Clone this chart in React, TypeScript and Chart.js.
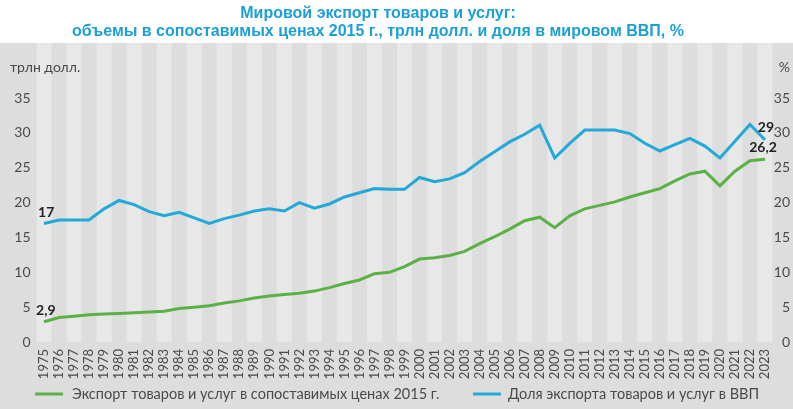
import { useEffect, useRef } from "react";
import { Chart, registerables } from "chart.js";

Chart.register(...registerables);

// Годы наблюдений
const years = [
  "1975", "1976", "1977", "1978", "1979", "1980", "1981", "1982", "1983", "1984",
  "1985", "1986", "1987", "1988", "1989", "1990", "1991", "1992", "1993", "1994",
  "1995", "1996", "1997", "1998", "1999", "2000", "2001", "2002", "2003", "2004",
  "2005", "2006", "2007", "2008", "2009", "2010", "2011", "2012", "2013", "2014",
  "2015", "2016", "2017", "2018", "2019", "2020", "2021", "2022", "2023",
];

// Экспорт товаров и услуг в сопоставимых ценах 2015 г., трлн долл.
const exportVolume = [
  2.9, 3.5, 3.7, 3.9, 4.0, 4.1, 4.2, 4.3, 4.4, 4.8,
  5.0, 5.2, 5.6, 5.9, 6.3, 6.6, 6.8, 7.0, 7.3, 7.8,
  8.4, 8.9, 9.8, 10.0, 10.8, 11.9, 12.1, 12.4, 13.0, 14.1,
  15.1, 16.2, 17.4, 17.9, 16.4, 18.1, 19.1, 19.6, 20.1, 20.8,
  21.4, 22.0, 23.1, 24.1, 24.5, 22.4, 24.5, 26.0, 26.2,
];

// Доля экспорта товаров и услуг в мировом ВВП, %
const exportShare = [
  17, 17.5, 17.5, 17.5, 19.1, 20.3, 19.7, 18.7, 18.1, 18.6,
  17.8, 17.0, 17.7, 18.2, 18.8, 19.1, 18.8, 20.0, 19.2, 19.8,
  20.8, 21.4, 22.0, 21.9, 21.9, 23.6, 23.0, 23.4, 24.3, 25.9,
  27.3, 28.7, 29.8, 31.1, 26.4, 28.5, 30.4, 30.4, 30.4, 29.9,
  28.5, 27.4, 28.3, 29.2, 28.1, 26.4, 28.8, 31.2, 29,
];

const axisMax = 35;
const axisStep = 5;

const titleLines = [
  "Мировой экспорт товаров и услуг:",
  "объемы в сопоставимых ценах 2015 г., трлн долл. и доля в мировом ВВП, %",
];
const leftAxisTitle = "трлн долл.";
const rightAxisTitle = "%";
const volumeLabel = "Экспорт товаров и услуг в сопоставимых ценах 2015 г.";
const shareLabel = "Доля экспорта товаров и услуг в ВВП";

const W = 793;
const H = 409;
const GREEN = "#5bb046";
const BLUE = "#22a9d8";
const TITLE_BLUE = "#1b9fd6";
const BG = "#dddddd";
const BAND = "#e8e8e8";
const BAND_TOP = 43;
const TEXT = "#4a4a4a";
const FONT = "Lato, 'Noto Sans', sans-serif";

const fmt = (v: number) => String(v).replace(".", ",");

const decor = {
  id: "decor",
  beforeDraw(chart: any) {
    const { ctx, chartArea, scales } = chart;
    const x = scales.x;
    ctx.save();
    ctx.fillStyle = "#ffffff";
    ctx.fillRect(0, 0, W, H);
    ctx.fillStyle = BG;
    ctx.fillRect(0, BAND_TOP, W, H - BAND_TOP);
    const step = (chartArea.right - chartArea.left) / years.length;
    ctx.fillStyle = BAND;
    years.forEach((_, i) => {
      if (i % 2 !== 0) return;
      const cx = x.getPixelForValue(i);
      ctx.fillRect(cx - step / 2, BAND_TOP, step, chartArea.bottom - BAND_TOP);
    });

    // заголовок
    ctx.fillStyle = TITLE_BLUE;
    ctx.font = "bold 16px 'Liberation Sans', Arial, sans-serif";
    ctx.textAlign = "center";
    ctx.textBaseline = "middle";
    ctx.fillText(titleLines[0], 378, 14);
    ctx.fillText(titleLines[1], 378, 32);

    // подписи осей
    ctx.fillStyle = TEXT;
    ctx.font = `14px ${FONT}`;
    ctx.textAlign = "left";
    ctx.fillText(leftAxisTitle, 10, 67);
    ctx.textAlign = "right";
    ctx.fillText(rightAxisTitle, 790, 67);
    ctx.restore();
  },
  afterDraw(chart: any) {
    const { ctx } = chart;
    ctx.save();

    // значения на концах линий
    const volMeta = chart.getDatasetMeta(0).data;
    const shareMeta = chart.getDatasetMeta(1).data;
    const last = years.length - 1;
    ctx.fillStyle = "#222222";
    ctx.font = `bold 14px ${FONT}`;
    ctx.textBaseline = "middle";
    ctx.textAlign = "left";
    ctx.fillText(fmt(exportShare[0]), shareMeta[0].x - 6, shareMeta[0].y - 11);
    ctx.fillText(fmt(exportVolume[0]), volMeta[0].x - 8, volMeta[0].y - 11);
    ctx.textAlign = "center";
    ctx.fillText(fmt(exportShare[last]), shareMeta[last].x + 1, shareMeta[last].y - 12);
    ctx.fillText(fmt(exportVolume[last]), volMeta[last].x - 2, volMeta[last].y - 12);

    // легенда
    const ly = 394;
    ctx.lineWidth = 3;
    ctx.strokeStyle = GREEN;
    ctx.beginPath();
    ctx.moveTo(35, ly);
    ctx.lineTo(63, ly);
    ctx.stroke();
    ctx.strokeStyle = BLUE;
    ctx.beginPath();
    ctx.moveTo(473, ly);
    ctx.lineTo(501, ly);
    ctx.stroke();
    ctx.fillStyle = TEXT;
    ctx.font = `14.5px ${FONT}`;
    ctx.textAlign = "left";
    ctx.textBaseline = "middle";
    ctx.fillText(volumeLabel, 72, ly);
    ctx.fillText(shareLabel, 508, ly);
    ctx.restore();
  },
};

export default function App() {
  const ref = useRef<HTMLCanvasElement | null>(null);

  useEffect(() => {
    if (!ref.current) return;
    const chart = new Chart(ref.current, {
      type: "line",
      data: {
        labels: years,
        datasets: [
          {
            label: volumeLabel,
            data: exportVolume,
            borderColor: GREEN,
            backgroundColor: GREEN,
            borderWidth: 3,
            pointRadius: 0,
            tension: 0,
            yAxisID: "y",
          },
          {
            label: shareLabel,
            data: exportShare,
            borderColor: BLUE,
            backgroundColor: BLUE,
            borderWidth: 3,
            pointRadius: 0,
            tension: 0,
            yAxisID: "y1",
          },
        ],
      },
      options: {
        responsive: false,
        animation: false,
        devicePixelRatio: 1,
        layout: { padding: { top: 98, bottom: 27, left: 0, right: 3 } },
        plugins: {
          legend: { display: false },
          title: { display: false },
          tooltip: { enabled: false },
        },
        scales: {
          x: {
            offset: true,
            grid: { display: false, drawTicks: false },
            border: { display: false },
            ticks: {
              autoSkip: false,
              minRotation: 90,
              maxRotation: 90,
              padding: 7,
              color: TEXT,
              font: { family: FONT, size: 13 },
            },
            afterFit: (s: any) => {
              s.height = 40;
            },
          },
          y: {
            position: "left",
            min: 0,
            max: axisMax,
            grid: { display: false, drawTicks: false },
            border: { display: false },
            ticks: {
              stepSize: axisStep,
              padding: 6,
              color: TEXT,
              font: { family: FONT, size: 14 },
            },
            afterFit: (s: any) => {
              s.width = 36.5;
            },
          },
          y1: {
            position: "right",
            min: 0,
            max: axisMax,
            grid: { display: false, drawTicks: false },
            border: { display: false },
            ticks: {
              stepSize: axisStep,
              crossAlign: "far",
              color: TEXT,
              font: { family: FONT, size: 14 },
            },
            afterFit: (s: any) => {
              s.width = 17.5;
            },
          },
        },
      },
      plugins: [decor],
    });
    return () => chart.destroy();
  }, []);

  return (
    <div style={{ position: "fixed", left: 0, top: 0, width: W, height: H }}>
      <canvas ref={ref} width={W} height={H} style={{ width: W, height: H, display: "block" }} />
    </div>
  );
}
